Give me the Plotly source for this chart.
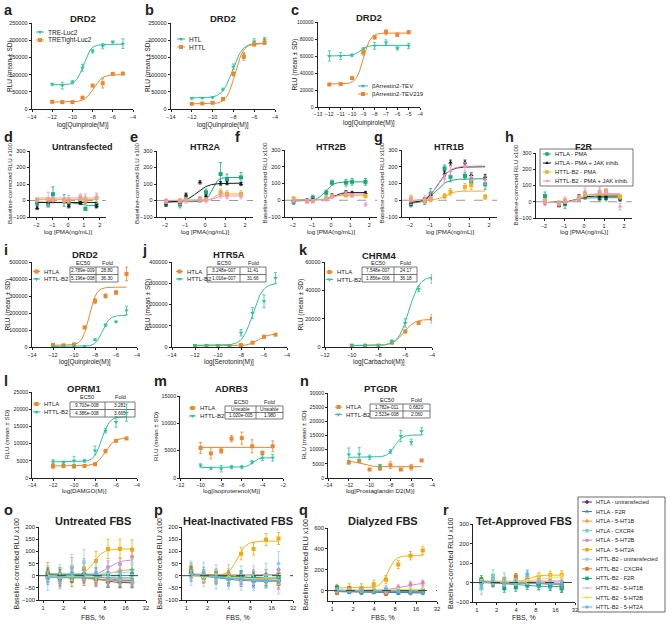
import numpy as np
import plotly.graph_objects as go

W, H = 667, 625
FONT = "Liberation Sans, Arial, sans-serif"
INK = "#222222"

TEAL = "#2cc4a0"
ORANGE = "#f0862a"
R2_TEAL = "#16a97f"
R2_BLACK = "#1a1a1a"
R2_ORANGE = "#f5ae22"
R2_PINK = "#ee97c6"

# ---------------- row 1 data ----------------
Q_X = [-12, -11, -10, -9, -8, -7, -6, -5]

A_TRE = [72000, 68000, 78000, 120000, 168000, 183000, 195000, 190000]
A_TRE_SD = [3000, 10000, 5000, 10000, 5000, 8000, 3000, 14000]
A_TIGHT = [21000, 20000, 20000, 33000, 68000, 75000, 102000, 103000]
A_TIGHT_SD = [2000, 1500, 1500, 2000, 3000, 14000, 2000, 2000]
A_FIT_TRE = [70000, 188000, -8.9, 1.2]
A_FIT_TIGHT = [20000, 100000, -7.9, 1.0]

B_HTL = [31000, 32000, 34000, 57000, 123000, 155000, 196000, 202000]
B_HTL_SD = [2000, 2000, 2000, 4000, 8000, 8000, 8000, 6000]
B_HTTL = [15000, 16000, 18000, 29000, 102000, 152000, 188000, 193000]
B_HTTL_SD = [1000, 1000, 1000, 2000, 6000, 10000, 5000, 5000]
B_FIT_HTL = [32000, 192000, -8.1, 0.9]
B_FIT_HTTL = [15000, 190000, -7.85, 1.1]

C_TEV = [60000, 60000, 61000, 68000, 72000, 76000, 69000, 72000]
C_TEV_SD = [6000, 4000, 1500, 2000, 4000, 3000, 2000, 3000]
C_TEV219 = [26500, 27000, 34000, 64000, 82000, 88000, 85000, 88000]
C_TEV219_SD = [1000, 1000, 1000, 3000, 2000, 3000, 2000, 2000]
C_FIT_TEV = [60000, 72500, -9.3, 1.5]
C_FIT_TEV219 = [27000, 87000, -9.0, 1.4]

# ---------------- row 2 data (PMA) ----------------
PMA_LOG = [-1.95, -1.25, -0.95, -0.25, 0.05, 0.78, 1.1, 1.8]
R2_NAMES = ["HTLA - PMA", "HTLA - PMA + JAK inhib.", "HTTL-B2 - PMA", "HTTL-B2 - PMA + JAK inhib."]

D_VALS = [[-15, -25, 38, 0, -15, -5, -50, -25],
          [-45, -5, 0, -5, -35, -15, -5, -35],
          [5, 5, 5, 0, 0, 15, 0, 15],
          [0, 10, 0, 0, 10, 20, 20, 20]]
D_SD = [[15, 15, 45, 35, 15, 15, 10, 15], [10] * 8, [10, 10, 10, 10, 15, 15, 15, 20], [10, 40, 20, 15, 20, 20, 20, 25]]
D_FIT = [[-10, -30, 0.5, 2], [-12, -12, 0, 1], [5, 5, 0, 1], [15, 15, 0, 1]]

E_VALS = [[-15, -25, 10, 5, 50, 160, 130, 140],
          [-25, -10, 35, 110, 25, 105, 105, 100],
          [-5, 0, 5, 5, 5, 50, 40, 40],
          [-5, -10, 0, 10, 0, 30, 25, 25]]
E_SD = [[20, 20, 15, 15, 20, 70, 30, 30], [10] * 8, [10, 10, 10, 10, 10, 20, 20, 20], [15] * 8]
E_FIT = [[-10, 140, 0.35, 3], [-10, 105, -0.4, 1.5], [0, 40, 0.45, 4], [0, 28, 0.45, 4]]

F_VALS = [[-10, -5, 15, 45, 105, 105, 110, 110],
          [0, 0, 0, 10, 30, 50, 45, 45],
          [10, -5, -5, 10, 25, 30, 30, 25],
          [-5, -5, -5, 5, 20, 45, 30, -25]]
F_SD = [[15, 10, 15, 15, 15, 20, 20, 20], [8] * 8, [10] * 8, [10] * 8]
F_FIT = [[-5, 110, -0.3, 2], [0, 46, 0.1, 2], [0, 30, -0.1, 2], [0, 38, 0.1, 2]]

G_VALS = [[-25, -5, 40, 190, 140, 145, 110, 95],
          [-15, 0, 30, 160, 225, 225, 150, 140],
          [10, -5, 5, 25, 50, 80, 90, 20],
          [0, 5, 20, 130, 175, 200, 140, 120]]
G_SD = [[15, 20, 30, 20, 30, 20, 20, 30], [15] * 8, [20, 15, 15, 15, 20, 20, 25, 15], [25] * 8]
G_FIT = [[-20, 128, -0.7, 1.5], [-15, 200, -0.6, 1.5], [0, 55, -0.2, 2], [-5, 205, -0.55, 1.5]]

H_VALS = [[35, -20, -15, 20, 30, 20, 25, 20],
          [0, -15, 0, 30, 40, 30, 30, 20],
          [5, -10, 5, 25, 45, 55, 65, 30],
          [-5, -15, 10, 20, 65, 70, 60, -30]]
H_SD = [[25, 10, 25, 15, 15, 20, 20, 15], [15] * 8, [15] * 8, [20] * 8]
H_FIT = [[-5, 25, -0.5, 2], [-5, 35, -0.4, 2], [-5, 45, -0.3, 2], [-5, 50, -0.2, 2]]

# ---------------- rows 3-4 data ----------------
I_HTLA = [12000, 10000, 15000, 115000, 270000, 300000, 320000, 430000]
I_HTLA_SD = [3000, 2000, 2000, 5000, 15000, 12000, 12000, 40000]
I_HTTL = [3000, 3000, 4000, 5000, 43000, 128000, 148000, 215000]
I_HTTL_SD = [1000, 1000, 1000, 1000, 5000, 8000, 5000, 25000]
I_FIT = [[10000, 352000, np.log10(2.789e-9), 1.3], [3000, 186000, np.log10(5.196e-8), 1.3]]
I_TABLE = [["2.789e-009", "28.80"], ["5.196e-008", "36.30"]]

J_HTLA = [5000, 5000, 5000, 5000, 9000, 20000, 48000, 58000]
J_HTLA_SD = [1000, 1000, 1000, 1000, 1500, 2000, 3000, 3000]
J_HTTL = [8000, 8000, 8000, 8000, 67000, 160000, 215000, 325000]
J_HTTL_SD = [2000, 2000, 2000, 2000, 15000, 25000, 30000, 25000]
J_FIT = [[5000, 62000, np.log10(3.248e-7), 1.0], [8000, 300000, np.log10(1.016e-7), 1.0]]
J_TABLE = [["3.248e-007", "11.41"], ["1.016e-007", "31.66"]]

K_X = [-10, -9, -8, -7, -6, -5, -4]
K_HTLA = [1000, 1000, 1000, 3000, 11000, 17000, 20000]
K_HTLA_SD = [300, 300, 300, 500, 1000, 1000, 3000]
K_HTTL = [1000, 1000, 1000, 4000, 17000, 41000, 48000]
K_HTTL_SD = [300, 300, 500, 1000, 3000, 2000, 3000]
K_FIT = [[1000, 19500, np.log10(7.548e-7), 1.1], [1000, 50000, np.log10(1.856e-6), 1.1]]
K_TABLE = [["7.548e-007", "24.17"], ["1.856e-006", "36.18"]]

L_HTLA = [3500, 3500, 3400, 3500, 4000, 7800, 10800, 11500]
L_HTLA_SD = [800, 500, 500, 300, 300, 500, 300, 300]
L_HTTL = [4800, 4400, 5000, 5000, 8000, 13700, 16300, 19000]
L_HTTL_SD = [500, 500, 1300, 400, 1300, 600, 1500, 2500]
L_FIT = [[3500, 11700, np.log10(9.703e-8), 1.0], [4700, 17800, np.log10(4.386e-8), 1.2]]
L_TABLE = [["9.703e-008", "3.281"], ["4.386e-008", "3.665"]]

M_X = [-10, -9, -8, -7, -6, -5, -4, -3]
M_HTLA = [5500, 4500, 5000, 7200, 7300, 5800, 4600, 5800]
M_HTLA_SD = [1000, 1000, 500, 600, 1100, 1200, 300, 1000]
M_HTTL = [2300, 1800, 1700, 2000, 2000, 2900, 3700, 3700]
M_HTTL_SD = [300, 200, 600, 300, 300, 300, 500, 600]
M_FIT = [[5600, 5600, -6, 1], [1900, 3700, np.log10(1.020e-5), 1.5]]
M_TABLE = [["Unstable", "Unstable"], ["1.020e-005", "1.980"]]

N_HTLA = [5500, 6000, 3000, 3500, 4500, 3000, 3800, 6200]
N_HTLA_SD = [600, 600, 300, 800, 1200, 200, 1000, 300]
N_HTTL = [8300, 8400, 7300, 4500, 9300, 14800, 12700, 16500]
N_HTTL_SD = [2300, 2300, 800, 300, 700, 2000, 1000, 1200]
N_FIT = [[6000, 4000, np.log10(1.782e-11), 1.0], [7300, 15200, np.log10(2.523e-8), 1.2]]
N_TABLE = [["1.782e-011", "0.6820"], ["2.523e-008", "2.060"]]

# ---------------- row 5 data (FBS) ----------------
FBS = [1.17, 1.76, 2.63, 3.95, 5.93, 8.89, 13.33, 20.0]
R5_NAMES = ["HTLA - untransfected", "HTLA - F2R", "HTLA - 5-HT1B", "HTLA - CXCR4", "HTLA - 5-HT2B",
            "HTLA - 5-HT2A", "HTTL-B2 - untransfected", "HTTL-B2 - CXCR4", "HTTL-B2 - F2R",
            "HTTL-B2 - 5-HT1B", "HTTL-B2 - 5-HT2B", "HTTL-B2 - 5-HT2A"]
R5_COLORS = ["#6c1f7c", "#2f80c4", "#f59a35", "#72d6c0", "#e07cc0", "#f2a900",
             "#8fd0f5", "#e8721c", "#12a37a", "#f0a8d0", "#f0e040", "#4cb8f0"]
R5_SYMBOLS = ["diamond", "triangle-up", "cross", "square", "circle", "square",
              "circle", "square", "square", "triangle-up", "triangle-down", "star"]

O_VALS = [[-5, -12, -8, -10, -18, -28, -30, -30],
          [0, 8, 12, 25, 8, -18, -20, -22],
          [5, -5, 0, 5, -12, 8, 22, 25],
          [-10, -18, -10, 5, -12, -22, -25, -28],
          [0, -5, 2, 10, -8, 36, 48, 78],
          [14, -10, 35, 30, 60, 110, 110, 107],
          [-10, -5, 38, 57, 10, 5, 10, 22],
          [10, -15, -20, -15, -20, -22, -20, -20],
          [10, 5, -5, 5, -5, -2, -5, 6],
          [-5, -10, 0, 0, -5, -12, -15, -15],
          [0, -5, -5, 0, -10, -5, -5, -10],
          [-12, -20, 10, 0, 5, -10, -8, -15]]
O_SD = [20, 25, 20, 20, 25, 40, 50, 25, 20, 20, 15, 25]
O_FIT = [[-5, -30, 0.85, 4], [8, -20, 0.85, 4], [0, 25, 1.0, 5], [-8, -25, 0.8, 3],
         [0, 65, 0.95, 5], [0, 110, 0.74, 6], [5, 15, 0.7, 2], [0, -20, 0.6, 3],
         [5, 0, 0.7, 2], [-2, -15, 0.8, 3], [-2, -8, 0.8, 2], [-5, -10, 0.8, 2]]

P_VALS = [[10, -5, -5, -10, -15, -20, -20, -20],
          [15, 0, -8, -18, -20, -25, -25, -5],
          [20, -5, 0, 0, -5, 0, 5, 10],
          [30, 0, -5, -10, -5, -10, -15, -10],
          [5, -5, 0, -10, -5, 0, 0, 25],
          [25, 0, 5, 5, 90, 110, 148, 153],
          [10, 5, -5, -5, -10, -10, 0, 50],
          [20, -10, -5, 0, -5, -10, -20, -35],
          [15, -5, -5, -10, 0, -5, -10, -10],
          [0, -5, -10, -15, -20, -15, -20, -55],
          [5, -10, -10, -5, -10, -15, -10, -20],
          [0, 10, -10, -15, -10, -20, -20, -25]]
P_SD = [20, 25, 20, 25, 25, 25, 50, 20, 20, 20, 15, 25]
P_FIT = [[5, -20, 0.5, 2], [10, -25, 0.4, 2], [0, 5, 0.7, 2], [5, -12, 0.3, 2],
         [0, 5, 1.0, 3], [0, 142, 0.72, 7], [0, 2, 0.9, 3], [8, -25, 0.9, 2],
         [5, -10, 0.5, 2], [0, -25, 0.7, 2], [0, -15, 0.5, 2], [5, -22, 0.5, 2]]

Q_VALS = [[-10, -10, -15, -10, -30, -20, -20, -15],
          [-5, -10, -10, -10, -15, -20, -25, -25],
          [0, 5, 0, -5, 0, -10, -5, 0],
          [20, -5, -10, -10, -20, -10, -15, -10],
          [0, 0, 5, 10, 20, 30, 60, 75],
          [20, 25, 25, 60, 105, 250, 335, 385],
          [5, 0, -5, 0, 10, 0, -10, 5],
          [-20, 20, 5, -10, -25, -10, -15, -5],
          [30, -10, -15, -5, 0, -10, -5, 0],
          [5, 0, 0, 5, -10, 0, 5, 20],
          [0, 5, 0, 5, 5, 10, 15, 15],
          [0, -5, 0, -5, 5, -5, -10, -5]]
Q_SD = [15, 15, 15, 20, 25, 40, 20, 20, 20, 20, 15, 15]
Q_FIT = [[-10, -20, 0.7, 2], [-5, -25, 0.7, 2], [0, -5, 0.8, 2], [5, -15, 0.5, 2],
         [0, 70, 1.0, 4], [25, 335, 0.80, 8], [0, 0, 0.8, 1], [0, -12, 0.7, 2],
         [5, -5, 0.5, 2], [0, 10, 1.0, 3], [0, 15, 0.9, 3], [0, -5, 0.8, 2]]

R_VALS = [[-5, 0, -5, 0, 5, -10, -5, -10],
          [10, 5, 0, 5, 0, -5, -10, -15],
          [0, 5, 0, 10, 5, 0, -5, -35],
          [-30, 35, 20, 15, 5, -10, -10, -20],
          [5, 10, 5, 0, 5, 10, 10, 5],
          [5, 0, 5, 20, 25, 30, 38, 40],
          [0, -5, 0, 5, 45, -5, -10, -15],
          [10, -5, 0, 30, 0, -5, -10, -15],
          [15, 0, -30, -25, -15, -15, -20, -30],
          [0, 5, -5, 0, 5, 10, 5, 10],
          [0, 5, 0, 5, 10, 20, 25, 35],
          [-10, 5, 0, 5, 40, 0, -5, -10]]
R_SD = [15, 15, 15, 30, 15, 20, 20, 15, 20, 15, 15, 20]
R_FIT = [[0, -8, 0.8, 2], [5, -12, 0.8, 2], [3, -5, 1.1, 4], [10, -15, 0.8, 2],
         [5, 8, 0.8, 2], [0, 38, 0.78, 6], [0, -8, 0.9, 2], [5, -10, 0.8, 2],
         [5, -22, 0.5, 2], [0, 8, 0.8, 2], [0, 28, 0.85, 3], [0, -5, 0.9, 2]]

# ---------------- helpers ----------------
fig = go.Figure()
axes = {}
annotations = []
shapes = []


def fx(p):
    return p / W


def fy(p):
    return 1 - p / H


def axname(n, kind):
    return kind + ("" if n == 1 else str(n))


def make_axes(n, box, xr, xt, yr, yt, xlog=False, fs_tick=5.5, ticklen=2.5):
    x0, x1, ytop, ybot = box
    common = dict(showline=True, linecolor=INK, linewidth=0.8, ticks="outside", ticklen=ticklen,
                  tickwidth=0.8, tickcolor=INK, showgrid=False, zeroline=False, automargin=False,
                  tickfont=dict(size=fs_tick, color=INK, family=FONT), tickmode="array", tickangle=0)
    xa = dict(common, domain=[fx(x0), fx(x1)], range=xr, tickvals=xt, anchor=axname(n, "y"))
    if xlog:
        xa["type"] = "log"
        xa["ticktext"] = [str(v) for v in xt]
    ya = dict(common, domain=[fy(ybot), fy(ytop)], range=yr, tickvals=yt, anchor=axname(n, "x"),
              tickformat="d")
    axes[axname(n, "xaxis")] = xa
    axes[axname(n, "yaxis")] = ya


def text(x, y, s, size, bold=False, xanchor="center", yanchor="middle", angle=0):
    annotations.append(dict(x=fx(x), y=fy(y), xref="paper", yref="paper", showarrow=False,
                            text=f"<b>{s}</b>" if bold else s, xanchor=xanchor, yanchor=yanchor,
                            textangle=angle, font=dict(size=size, color=INK, family=FONT)))


def series(n, x, y, sd, fit, color, symbol, msize=4, xlog=False, lw=1.0):
    xa, ya = axname(n, "x"), axname(n, "y")
    if xlog:
        lx = np.linspace(np.log10(min(x)), np.log10(max(x)), 150)
        cx = 10 ** lx
    else:
        lx = np.linspace(min(x), max(x), 150)
        cx = lx
    b, t, ec, h = fit
    cy = b + (t - b) / (1 + 10 ** ((ec - lx) * h))
    fig.add_trace(go.Scatter(x=cx, y=cy, mode="lines", line=dict(color=color, width=lw),
                             xaxis=xa, yaxis=ya, showlegend=False, hoverinfo="skip"))
    sdv = sd if isinstance(sd, (list, tuple)) else [sd] * len(y)
    fig.add_trace(go.Scatter(x=x, y=y, mode="markers",
                             marker=dict(color=color, symbol=symbol, size=msize, line=dict(width=0)),
                             error_y=dict(type="data", array=sdv, color=color, thickness=0.8, width=1.5),
                             xaxis=xa, yaxis=ya, showlegend=False))


def zero_line(n, xr, xlog=False, color="#9a9a9a"):
    xs = [10 ** xr[0], 10 ** xr[1]] if xlog else list(xr)
    fig.add_trace(go.Scatter(x=xs, y=[0, 0], mode="lines", line=dict(color=color, width=1, dash="dash"),
                             xaxis=axname(n, "x"), yaxis=axname(n, "y"), showlegend=False, hoverinfo="skip"))


def legend_entry(x0, x1, y, color, symbol, label, fs=6, msize=4):
    fig.add_trace(go.Scatter(x=[x0, x1], y=[y, y], mode="lines", line=dict(color=color, width=1),
                             xaxis="x19", yaxis="y19", showlegend=False, hoverinfo="skip"))
    fig.add_trace(go.Scatter(x=[(x0 + x1) / 2], y=[y], mode="markers",
                             marker=dict(color=color, symbol=symbol, size=msize),
                             xaxis="x19", yaxis="y19", showlegend=False, hoverinfo="skip"))
    text(x1 + 2, y, label, fs, xanchor="left")


def ec50_table(x0, xm, x1, yh, ytop, ymid, ybot, rows, fs=4.7):
    col = "#555555"
    shapes.append(dict(type="rect", xref="paper", yref="paper", x0=fx(x0), x1=fx(x1), y0=fy(ybot), y1=fy(ytop),
                       line=dict(color=col, width=0.8)))
    shapes.append(dict(type="line", xref="paper", yref="paper", x0=fx(xm), x1=fx(xm), y0=fy(ybot), y1=fy(ytop),
                       line=dict(color=col, width=0.8)))
    shapes.append(dict(type="line", xref="paper", yref="paper", x0=fx(x0), x1=fx(x1), y0=fy(ymid), y1=fy(ymid),
                       line=dict(color=col, width=0.8)))
    text((x0 + xm) / 2, yh, "EC50", 5.6)
    text((xm + x1) / 2, yh, "Fold", 5.6)
    text((x0 + xm) / 2, (ytop + ymid) / 2, rows[0][0], fs)
    text((xm + x1) / 2, (ytop + ymid) / 2, rows[0][1], fs)
    text((x0 + xm) / 2, (ymid + ybot) / 2, rows[1][0], fs)
    text((xm + x1) / 2, (ymid + ybot) / 2, rows[1][1], fs)


def decorate(box, title, ty, tsize, xtitle, xty, ytitle, ytx, tcx=None, fs=6.5):
    x0, x1, ytop, ybot = box
    text(tcx if tcx is not None else (x0 + x1) / 2, ty, title, tsize, bold=True)
    text((x0 + x1) / 2, xty, xtitle, fs)
    text(ytx, (ytop + ybot) / 2, ytitle, fs, angle=-90)


RLU = "RLU (mean ± SD)"
BRLU = "Baseline-corrected RLU x100"

BOX = {
    "a": (32, 133, 23, 109), "b": (171, 275, 23, 109), "c": (318, 420, 22, 107),
    "d": (30, 106, 151, 217), "e": (157, 253, 151, 217), "f": (285, 377, 150, 217),
    "g": (402, 497, 150, 217), "h": (536, 632, 153, 218),
    "i": (32, 137, 262, 347), "j": (172, 287, 262, 347), "k": (325, 432, 262, 347),
    "l": (32, 137, 392, 478), "m": (180, 283, 396, 478), "n": (328, 432, 393, 478),
    "o": (39, 146, 527, 600), "p": (182, 293, 527, 600), "q": (328, 437, 528, 601),
    "r": (473, 575, 524, 602),
}

# ---------------- row 1 ----------------
make_axes(1, BOX["a"], [-14, -4], list(range(-14, -3, 2)), [0, 250000], list(range(0, 250001, 50000)))
series(1, Q_X, A_TRE, A_TRE_SD, A_FIT_TRE, TEAL, "triangle-down")
series(1, Q_X, A_TIGHT, A_TIGHT_SD, A_FIT_TIGHT, ORANGE, "square")
decorate(BOX["a"], "DRD2", 18.5, 9.5, "log[Quinpirole(M)]", 125, RLU, 10)

make_axes(2, BOX["b"], [-14, -4], list(range(-14, -3, 2)), [0, 250000], list(range(0, 250001, 50000)))
series(2, Q_X, B_HTL, B_HTL_SD, B_FIT_HTL, TEAL, "triangle-down")
series(2, Q_X, B_HTTL, B_HTTL_SD, B_FIT_HTTL, ORANGE, "square")
decorate(BOX["b"], "DRD2", 18.5, 9.5, "log[Quinpirole(M)]", 125, RLU, 148)

make_axes(3, BOX["c"], [-13, -4], list(range(-13, -3)), [0, 100000], list(range(0, 100001, 20000)), fs_tick=5)
series(3, Q_X, C_TEV, C_TEV_SD, C_FIT_TEV, TEAL, "triangle-down")
series(3, Q_X, C_TEV219, C_TEV219_SD, C_FIT_TEV219, ORANGE, "square")
decorate(BOX["c"], "DRD2", 17.5, 9.5, "log[Quinpirole(M)]", 123, RLU, 295)

# ---------------- row 2 ----------------
R2_COLORS = [R2_TEAL, R2_BLACK, R2_ORANGE, R2_PINK]
R2_SYMBOLS = ["square", "triangle-up", "square", "triangle-up"]
R2_XR = [-2.4, 2.4]
row2 = [("d", 4, "Untransfected", D_VALS, D_SD, D_FIT, 82),
        ("e", 5, "HTR2A", E_VALS, E_SD, E_FIT, None),
        ("f", 6, "HTR2B", F_VALS, F_SD, F_FIT, None),
        ("g", 7, "HTR1B", G_VALS, G_SD, G_FIT, None),
        ("h", 8, "F2R", H_VALS, H_SD, H_FIT, None)]
for key, n, title, vals, sds, fits, tcx in row2:
    make_axes(n, BOX[key], R2_XR, [-2, -1, 0, 1, 2], [-100, 300], [-100, 0, 100, 200, 300])
    zero_line(n, R2_XR)
    for k in range(4):
        series(n, PMA_LOG, vals[k], sds[k], fits[k], R2_COLORS[k], R2_SYMBOLS[k], msize=4)
    b = BOX[key]
    decorate(b, title, 147, 9, "log [PMA(ng/mL)]", 232, BRLU, b[0] - 21, tcx=tcx, fs=6.2)

# ---------------- rows 3-4 ----------------
rows34 = [("i", 9, "DRD2", Q_X, I_HTLA, I_HTLA_SD, I_HTTL, I_HTTL_SD, I_FIT, [-14, -4], list(range(-14, -3, 2)),
           [0, 500000], list(range(0, 500001, 100000)), "log[Quinpirole(M)]", 255, 362),
          ("j", 10, "HTR5A", Q_X, J_HTLA, J_HTLA_SD, J_HTTL, J_HTTL_SD, J_FIT, [-14, -4], list(range(-14, -3, 2)),
           [0, 400000], list(range(0, 400001, 100000)), "log[Serotonin(M)]", 255, 362),
          ("k", 11, "CHRM4", K_X, K_HTLA, K_HTLA_SD, K_HTTL, K_HTTL_SD, K_FIT, [-12, -4], list(range(-12, -3, 2)),
           [0, 60000], list(range(0, 60001, 20000)), "log[Carbachol(M)]", 256, 362),
          ("l", 12, "OPRM1", Q_X, L_HTLA, L_HTLA_SD, L_HTTL, L_HTTL_SD, L_FIT, [-14, -4], list(range(-14, -3, 2)),
           [0, 25000], list(range(0, 25001, 5000)), "log[DAMGO(M)]", 389, 490),
          ("m", 13, "ADRB3", M_X, M_HTLA, M_HTLA_SD, M_HTTL, M_HTTL_SD, M_FIT, [-12, -2], list(range(-12, -1, 2)),
           [0, 15000], list(range(0, 15001, 5000)), "log[Isoproterenol(M)]", 389, 490),
          ("n", 14, "PTGDR", Q_X, N_HTLA, N_HTLA_SD, N_HTTL, N_HTTL_SD, N_FIT, [-14, -4], list(range(-14, -3, 2)),
           [0, 30000], list(range(0, 30001, 5000)), "log[Prostaglandin D2(M)]", 389, 490)]
for key, n, title, X, ya, yas, yb, ybs, fits, xr, xt, yr, yt, xtitle, ty, xty in rows34:
    row4 = key in "lmn"
    make_axes(n, BOX[key], xr, xt, yr, yt, fs_tick=5.2 if row4 else 5.5, ticklen=2 if row4 else 2.5)
    series(n, X, ya, yas, fits[0], ORANGE, "square")
    series(n, X, yb, ybs, fits[1], TEAL, "triangle-down")
    b = BOX[key]
    decorate(b, title, ty, 9.5, xtitle, xty, RLU, b[0] - 25, fs=6.2 if row4 else 6.5)

ec50_table(70, 96, 118, 263, 267, 274.5, 282, I_TABLE)
ec50_table(207, 240, 266, 263, 267, 274.5, 282, J_TABLE)
ec50_table(362, 394, 417, 263, 267, 274.5, 282, K_TABLE)
ec50_table(70, 105, 135, 397, 402, 409.5, 417, L_TABLE)
ec50_table(225, 256, 283, 401.5, 406, 412.5, 419, M_TABLE)
ec50_table(370, 403, 430, 400, 404, 411, 418, N_TABLE)

# ---------------- row 5 ----------------
R5_XR = [np.log10(0.87), np.log10(32)]
row5 = [("o", 15, "Untreated FBS", O_VALS, O_SD, O_FIT, [-100, 200], list(range(-100, 201, 50))),
        ("p", 16, "Heat-Inactivated FBS", P_VALS, P_SD, P_FIT, [-100, 200], list(range(-100, 201, 50))),
        ("q", 17, "Dialyzed FBS", Q_VALS, Q_SD, Q_FIT, [-100, 600], [0, 200, 400, 600]),
        ("r", 18, "Tet-Approved FBS", R_VALS, R_SD, R_FIT, [-100, 300], [-100, 0, 100, 200, 300])]
for key, n, title, vals, sds, fits, yr, yt in row5:
    make_axes(n, BOX[key], R5_XR, [1, 2, 4, 8, 16, 32], yr, yt, xlog=True, fs_tick=5.8, ticklen=2)
    for k in range(12):
        series(n, FBS, vals[k], sds[k], fits[k], R5_COLORS[k], R5_SYMBOLS[k], msize=4, xlog=True, lw=0.9)
    zero_line(n, R5_XR, xlog=True, color="#444444")
    b = BOX[key]
    decorate(b, title, 521, 11, "FBS, %", 617, BRLU, b[0] - 23, fs=7)

# ---------------- legends (pixel overlay) ----------------
axes["xaxis19"] = dict(domain=[0, 1], range=[0, W], visible=False, fixedrange=True)
axes["yaxis19"] = dict(domain=[0, 1], range=[H, 0], visible=False, fixedrange=True, anchor="x19")

legend_entry(36, 44, 32, TEAL, "triangle-down", "TRE-Luc2", 6.5)
legend_entry(36, 44, 40, ORANGE, "square", "TRETight-Luc2", 6.5)
legend_entry(177, 185, 39, TEAL, "triangle-down", "HTL", 6.5)
legend_entry(177, 185, 47, ORANGE, "square", "HTTL", 6.5)
legend_entry(358, 368, 86, TEAL, "triangle-down", "βArrestin2-TEV", 6)
legend_entry(358, 368, 94, ORANGE, "square", "βArrestin2-TEV219", 6)

for k, yy in enumerate([154, 163, 172, 181]):
    legend_entry(543, 551, yy, R2_COLORS[k], R2_SYMBOLS[k], R2_NAMES[k], 5.8, 3.5)
shapes.append(dict(type="rect", xref="paper", yref="paper", x0=fx(540), x1=fx(633), y0=fy(186), y1=fy(149),
                   line=dict(color="#555555", width=0.8)))

LEG34 = [(33, 40, 271.5, 279), (176, 183, 271.5, 279), (326, 333, 272, 279.5),
         (33, 40, 404, 412), (189, 196, 408, 416), (335, 342, 407, 414.5)]
for (gx0, gx1, y1, y2) in LEG34:
    legend_entry(gx0, gx1, y1, ORANGE, "square", "HTLA", 6)
    legend_entry(gx0, gx1, y2, TEAL, "triangle-down", "HTTL-B2", 6)

for k in range(12):
    legend_entry(582, 592, 502 + k * 9.55, R5_COLORS[k], R5_SYMBOLS[k], R5_NAMES[k], 5.6, 3.5)
shapes.append(dict(type="rect", xref="paper", yref="paper", x0=fx(578), x1=fx(665), y0=fy(612), y1=fy(497),
                   line=dict(color="#444444", width=0.8)))

# ---------------- panel letters ----------------
LETTERS = [("a", 2, 0), ("b", 143, 0), ("c", 289, 0), ("d", 2, 127), ("e", 128, 127), ("f", 233, 127),
           ("g", 372, 127), ("h", 503, 127), ("i", 2, 240), ("j", 140, 240), ("k", 297, 240),
           ("l", 2, 371), ("m", 152, 371), ("n", 298, 371), ("o", 2, 500), ("p", 152, 500),
           ("q", 297, 500), ("r", 441, 500)]
for s, lx, ly in LETTERS:
    text(lx, ly, s, 14.5, bold=True, xanchor="left", yanchor="top")

fig.update_layout(width=W, height=H, margin=dict(l=0, r=0, t=0, b=0), template="none",
                  paper_bgcolor="white", plot_bgcolor="rgba(0,0,0,0)", showlegend=False,
                  font=dict(family=FONT, color=INK), annotations=annotations, shapes=shapes, **axes)
fig.write_html("out.html", config={"displayModeBar": False},
               post_script="document.body.style.margin='0';document.body.style.padding='0';"
                           "document.body.style.overflow='hidden';")
